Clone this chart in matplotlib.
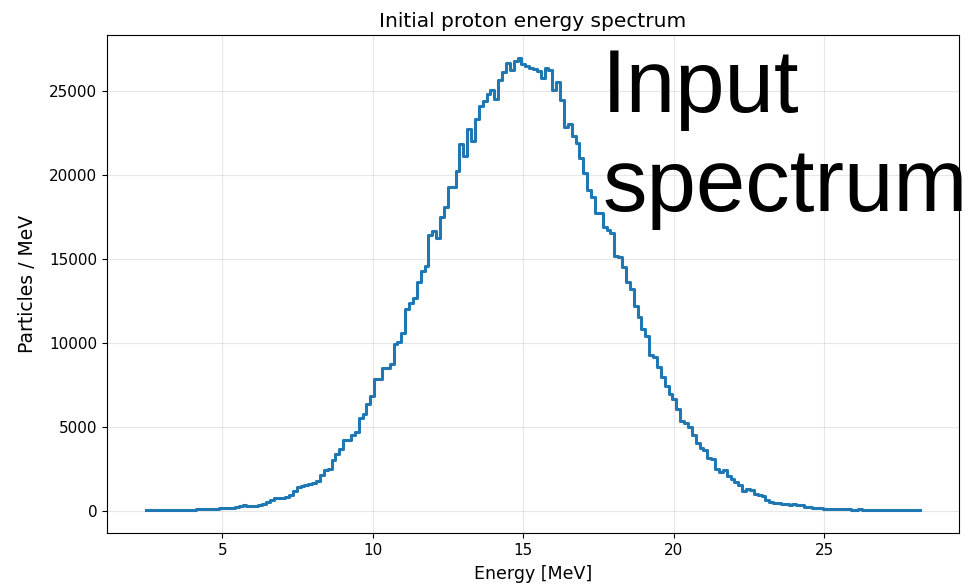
import numpy as np
import matplotlib
matplotlib.use("Agg")
import matplotlib.pyplot as plt

# energy range of the histogram (MeV) and counts per MeV in each bin
e_min = 2.45
e_max = 28.2
counts = [
    20, 25, 15, 30, 25, 35, 30, 45, 40, 50,
    45, 60, 55, 70, 80, 75, 90, 100, 110, 140,
    160, 180, 170, 200, 280, 300, 290, 270, 260, 330,
    400, 480, 620, 720, 750, 770, 800, 900, 1160, 1420,
    1480, 1550, 1600, 1660, 1750, 2100, 2400, 2500, 3000, 3390,
    3650, 4190, 4190, 4500, 4700, 5500, 5740, 6340, 6850, 7825,
    7825, 8500, 8500, 8760, 9900, 10050, 10610, 11990, 12350, 12650,
    13600, 14280, 14580, 16430, 16690, 16230, 17480, 18120, 19310, 19310,
    20270, 21850, 21110, 22740, 22000, 23340, 24090, 24430, 24830, 25050,
    24530, 25650, 26130, 26650, 26250, 26780, 27000, 26600, 26530, 26390,
    26300, 26230, 25790, 26390, 26290, 25050, 25530, 24500, 22860, 23060,
    22300, 21910, 21010, 20120, 19120, 18720, 17730, 17730, 16930, 16700,
    16530, 15150, 15100, 14530, 13640, 13180, 12200, 11550, 10850, 10380,
    9300, 9140, 8560, 7980, 7450, 6970, 6670, 6080, 5340, 5200,
    4950, 4530, 4030, 3750, 3600, 3150, 3090, 2460, 2290, 2390,
    2040, 1850, 1690, 1530, 1190, 1290, 1250, 1000, 900, 880,
    640, 500, 440, 440, 400, 380, 300, 360, 340, 320,
    200, 210, 180, 160, 150, 100, 110, 90, 95, 80,
    70, 75, 60, 55, 65, 50, 45, 40, 45, 35,
    30, 35, 25, 20, 25, 15, 20, 10, 15, 10,
]

title = "Initial proton energy spectrum"
xlabel = "Energy [MeV]"
ylabel = "Particles / MeV"
overlay_lines = ["Input", "spectrum"]

edges = np.linspace(e_min, e_max, len(counts) + 1)
yvals = np.append(counts, counts[-1])

fig = plt.figure(figsize=(9.69, 5.87), dpi=100)
ax = fig.add_axes([0.1104, 0.0920, 0.8793, 0.8484])

ax.step(edges, yvals, where="post", color="#1f77b4", linewidth=2.2)
ax.grid(True, alpha=0.3)

ax.set_title(title, fontsize=14.5)
ax.set_xlabel(xlabel, fontsize=12.5, labelpad=5)
ax.set_ylabel(ylabel, fontsize=13.5, labelpad=9)
ax.tick_params(labelsize=11)

# big annotation drawn on top of the figure
fig.text(602 / 969, 1 - 112 / 587, overlay_lines[0], fontsize=64,
         family="Liberation Sans", va="baseline", ha="left", color="black")
fig.text(602 / 969, 1 - 211 / 587, overlay_lines[1], fontsize=64,
         family="Liberation Sans", va="baseline", ha="left", color="black")

fig.savefig("out.png", dpi=100)
